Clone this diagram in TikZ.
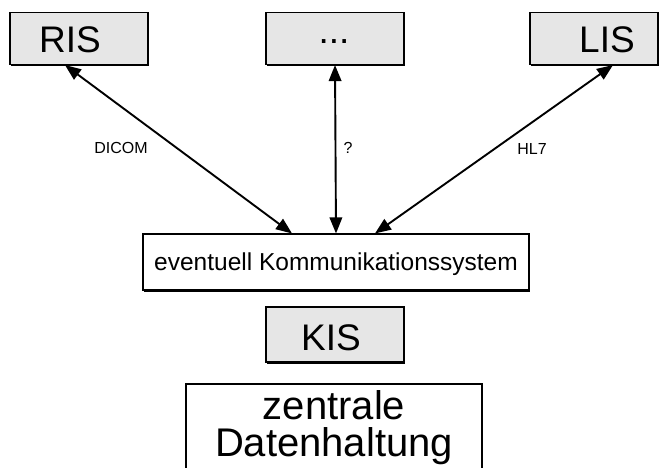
\documentclass[tikz,border=0pt]{standalone}
\usepackage{fontspec}
\setmainfont{Liberation Sans}
\usetikzlibrary{arrows.meta,shadows}
\definecolor{boxgray}{HTML}{E6E6E6}
\tikzset{
  sysbox/.style={draw=black, line width=1.1pt, fill=boxgray, inner sep=0pt,
    drop shadow={shadow xshift=1.2pt, shadow yshift=-1.6pt, fill=black, opacity=1}},
  plainbox/.style={sysbox, fill=white},
  bigtext/.style={font=\fontsize{37}{40}\selectfont, inner sep=0pt},
  midtext/.style={font=\fontsize{24.5}{28}\selectfont, inner sep=0pt},
  smalltext/.style={font=\fontsize{16}{18}\selectfont, inner sep=0pt},
  link/.style={line width=1.9pt, {Triangle[length=16pt,width=12.5pt]}-{Triangle[length=16pt,width=12.5pt]}}
}
\begin{document}
\begin{tikzpicture}[x=1pt,y=-1pt]
  \useasboundingbox (0,0) rectangle (661,468);
  \clip (0,0) rectangle (661,468);
  % source systems
  \node[sysbox, minimum width=138pt, minimum height=52pt] (ris) at (79,38.5) {};
  \node[bigtext] (ristxt) at (70,40) {RIS};
  \node[sysbox, minimum width=138pt, minimum height=52pt] (dots) at (335,38.5) {};
  \node[bigtext] (dotstxt) at (334,42) {...};
  \node[sysbox, minimum width=128pt, minimum height=52pt] (lis) at (594,38.5) {};
  \node[bigtext] (listxt) at (607,40) {LIS};
  % communication layer
  \node[plainbox, minimum width=386pt, minimum height=56pt] (comm) at (336,262) {};
  \node[midtext] (commtxt) at (336,264) {eventuell Kommunikationssystem};
  % hospital system
  \node[sysbox, minimum width=138pt, minimum height=55pt] (kis) at (335,334.5) {};
  \node[bigtext] (kistxt) at (331,338) {KIS};
  % central storage
  \node[plainbox, minimum width=296pt, minimum height=130pt] (store) at (334,449) {};
  \node[bigtext, font=\fontsize{40}{37}\selectfont, align=center] (storetxt) at (334,428) {zentrale\\Datenhaltung};
  % interfaces
  \draw[link] ([xshift=-14pt]ris.south) -- ([xshift=-44pt]comm.north);
  \draw[link] (dots.south) -- (comm.north);
  \draw[link] ([xshift=19pt]lis.south) -- ([xshift=39pt]comm.north);
  \node[smalltext] (dicom) at (121,148) {DICOM};
  \node[smalltext] (quest) at (348,148) {?};
  \node[smalltext] (hl7) at (532,149) {HL7};
\end{tikzpicture}
\end{document}
